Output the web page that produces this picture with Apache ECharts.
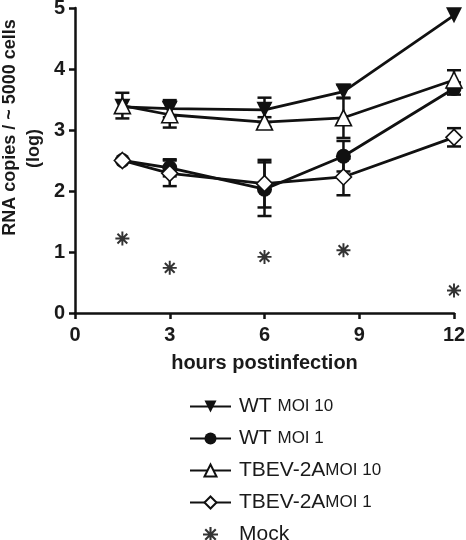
<!DOCTYPE html>
<html>
<head>
<meta charset="utf-8">
<script src="https://cdn.jsdelivr.net/npm/echarts@6/dist/echarts.min.js"></script>
<style>
html,body{margin:0;padding:0;background:#fff;}
#chart{width:466px;height:540px;}
</style>
</head>
<body>
<div id="chart"></div>
<script>
// ---- data ----
const hours = [1.5, 3, 6, 8.5, 12];
const wt10 = [3.38, 3.35, 3.33, 3.63, 4.88];
const wt10Err = [0, 0.14, 0.2, 0.11, 0];
const wt1 = [2.50, 2.38, 2.03, 2.57, 3.68];
const wt1Err = [0, 0.14, 0.44, 0.25, 0.1];
const tb10 = [3.40, 3.25, 3.13, 3.20, 3.82];
const tb10Err = [0.21, 0.21, 0.08, 0.33, 0.16];
const tb1 = [2.50, 2.29, 2.12, 2.23, 2.88];
const tb1Err = [0, 0.21, 0.39, 0.30, 0.15];
const mock = [1.22, 0.74, 0.92, 1.03, 0.37];
const seriesNames = ['WT MOI 10', 'WT MOI 1', 'TBEV-2A MOI 10', 'TBEV-2A MOI 1', 'Mock'];
const xTicks = [0, 3, 6, 9, 12];

const asterisk = 'path://M4.0,3.0 L-3.0,-4.0 L-4.0,-3.0 L3.0,4.0 Z ' +
  'M-3.0,4.0 L4.0,-3.0 L3.0,-4.0 L-4.0,3.0 Z ' +
  'M-0.7,-5 L-0.7,5 L0.7,5 L0.7,-5 Z ' +
  'M-5,-0.7 L-5,0.7 L5,0.7 L5,-0.7 Z';

function pairs(vals) { return hours.map((h, i) => [h, vals[i]]); }
function errData(vals, errs) { return hours.map((h, i) => [h, vals[i], errs[i]]); }

function errSeries(vals, errs) {
  return {
    type: 'custom',
    z: 1,
    silent: true,
    data: errData(vals, errs),
    renderItem: function (params, api) {
      const x = api.value(0), y = api.value(1), e = api.value(2);
      if (!e) return { type: 'group', children: [] };
      const top = api.coord([x, y + e]);
      const bot = api.coord([x, y - e]);
      const hw = 7;
      const st = { stroke: '#111', lineWidth: 2.5 };
      return {
        type: 'group',
        children: [
          { type: 'line', shape: { x1: top[0], y1: top[1], x2: bot[0], y2: bot[1] }, style: st },
          { type: 'line', shape: { x1: top[0] - hw, y1: top[1], x2: top[0] + hw, y2: top[1] }, style: st },
          { type: 'line', shape: { x1: bot[0] - hw, y1: bot[1], x2: bot[0] + hw, y2: bot[1] }, style: st }
        ]
      };
    }
  };
}

function lineSeries(name, vals, symbol, fill, size, rotate) {
  return {
    name: name,
    type: 'line',
    z: 3,
    data: pairs(vals),
    symbol: symbol,
    symbolSize: size,
    symbolRotate: rotate || 0,
    showAllSymbol: true,
    lineStyle: { color: '#111', width: 2.8 },
    itemStyle: { color: fill, borderColor: '#111', borderWidth: fill === '#fff' ? 1.6 : 0 },
    emphasis: { disabled: true },
    animation: false
  };
}

const chart = echarts.init(document.getElementById('chart'), null, { renderer: 'canvas' });
const option = {
  animation: false,
  backgroundColor: '#fff',
  grid: { left: 75, right: 12, top: 8, bottom: 227, containLabel: false, outerBoundsMode: 'none' },
  xAxis: {
    type: 'value', min: 0, max: 12, interval: 3,
    name: 'hours postinfection', nameLocation: 'middle', nameGap: 40,
    nameTextStyle: { fontFamily: 'Liberation Sans, Arial', fontWeight: 'bold', fontSize: 20, color: '#1a1a1a' },
    axisLine: { lineStyle: { color: '#111', width: 2.5 } },
    axisTick: { inside: false, length: 6, lineStyle: { color: '#111', width: 2.5 } },
    axisLabel: { margin: 12, fontFamily: 'Liberation Sans, Arial', fontWeight: 'bold', fontSize: 20, color: '#1a1a1a',
      formatter: v => (xTicks.indexOf(v) >= 0 ? String(v) : '') },
    splitLine: { show: false }
  },
  yAxis: {
    type: 'value', min: 0, max: 5, interval: 1,
    name: '{a|RNA copies / ~ 5000 cells}\n{b|(log)}', nameLocation: 'middle', nameGap: 28, nameRotate: 90,
    nameTextStyle: {
      fontFamily: 'Liberation Sans, Arial', fontWeight: 'bold', fontSize: 18, color: '#1a1a1a',
      padding: [0, 0, 0, 66],
      rich: {
        a: { fontFamily: 'Liberation Sans, Arial', fontWeight: 'bold', fontSize: 18, color: '#1a1a1a', lineHeight: 24 },
        b: { fontFamily: 'Liberation Sans, Arial', fontWeight: 'bold', fontSize: 18, color: '#1a1a1a', lineHeight: 24, padding: [0, 42, 0, 0] }
      }
    },
    axisLine: { show: true, lineStyle: { color: '#111', width: 2.5 } },
    axisTick: { show: true, inside: false, length: 6, lineStyle: { color: '#111', width: 2.5 } },
    axisLabel: { margin: 10, fontFamily: 'Liberation Sans, Arial', fontWeight: 'bold', fontSize: 20, color: '#1a1a1a' },
    splitLine: { show: false }
  },
  legend: {
    orient: 'vertical', left: 189, top: 396, height: 220, padding: 0,
    itemWidth: 41, itemHeight: 15, itemGap: 11,
    data: seriesNames,
    selectedMode: false,
    formatter: function (name) {
      const i = name.indexOf(' MOI');
      if (i < 0) return '{a|' + name + '}';
      const main = name.slice(0, i);
      const sep = main === 'WT' ? ' ' : '';
      return '{a|' + main + sep + '}{m|' + name.slice(i + 1) + '}';
    },
    textStyle: {
      color: '#1a1a1a',
      rich: {
        a: { fontFamily: 'Liberation Sans, Arial', fontSize: 21, color: '#1a1a1a', lineHeight: 18, padding: [0, 0, 0, 3] },
        m: { fontFamily: 'Liberation Sans, Arial', fontSize: 17, color: '#1a1a1a', lineHeight: 18 }
      }
    }
  },
  series: [
    errSeries(wt10, wt10Err),
    errSeries(wt1, wt1Err),
    errSeries(tb10, tb10Err),
    errSeries(tb1, tb1Err),
    lineSeries('WT MOI 10', wt10, 'triangle', '#111', 16, 180),
    lineSeries('WT MOI 1', wt1, 'circle', '#111', 15),
    lineSeries('TBEV-2A MOI 10', tb10, 'triangle', '#fff', 16),
    lineSeries('TBEV-2A MOI 1', tb1, 'diamond', '#fff', 16),
    {
      name: 'Mock', type: 'scatter', z: 3,
      data: pairs(mock),
      symbol: asterisk, symbolSize: 14,
      itemStyle: { color: '#000' },
      emphasis: { disabled: true }
    }
  ]
};
chart.setOption(option);
</script>
</body>
</html>
